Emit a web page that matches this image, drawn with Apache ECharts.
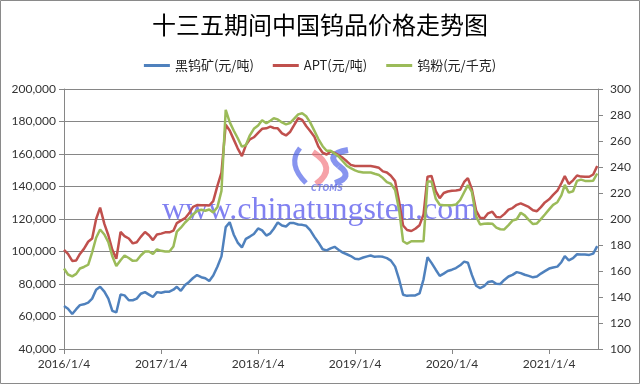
<!DOCTYPE html>
<html><head><meta charset="utf-8">
<script src="https://cdn.jsdelivr.net/npm/echarts@6/dist/echarts.min.js"></script>
<style>html,body{margin:0;padding:0;background:#fff}#c{width:640px;height:384px}</style>
</head><body><div id="c"></div>
<script>
const titleText = '十三五期间中国钨品价格走势图';
const seriesNames = ['黑钨矿(元/吨)', 'APT(元/吨)', '钨粉(元/千克)'];
const tickDates = ['2016-01-04','2017-01-04','2018-01-04','2019-01-04','2020-01-04','2021-01-04'];
const tickLabels = ['2016/1/4','2017/1/4','2018/1/4','2019/1/4','2020/1/4','2021/1/4'];
const axisStart = '2016-01-04';
const axisEnd = '2021-07-07';
const dates = [
'2016-01-04','2016-01-19','2016-02-04','2016-02-19','2016-03-04','2016-03-19','2016-04-04','2016-04-19','2016-05-04','2016-05-19','2016-06-04','2016-06-19',
'2016-07-04','2016-07-19','2016-08-04','2016-08-19','2016-09-04','2016-09-19','2016-10-04','2016-10-19','2016-11-04','2016-11-19','2016-12-04','2016-12-19',
'2017-01-04','2017-01-19','2017-02-04','2017-02-19','2017-03-04','2017-03-19','2017-04-04','2017-04-19','2017-05-04','2017-05-19','2017-06-04','2017-06-19',
'2017-07-04','2017-07-19','2017-08-04','2017-08-19','2017-09-04','2017-09-19','2017-10-04','2017-10-19','2017-11-04','2017-11-19','2017-12-04','2017-12-19',
'2018-01-04','2018-01-19','2018-02-04','2018-02-19','2018-03-04','2018-03-19','2018-04-04','2018-04-19','2018-05-04','2018-05-19','2018-06-04','2018-06-19',
'2018-07-04','2018-07-19','2018-08-04','2018-08-19','2018-09-04','2018-09-19','2018-10-04','2018-10-19','2018-11-04','2018-11-19','2018-12-04','2018-12-19',
'2019-01-04','2019-01-19','2019-02-04','2019-02-19','2019-03-04','2019-03-19','2019-04-04','2019-04-19','2019-05-04','2019-05-19','2019-06-04','2019-06-19',
'2019-07-04','2019-07-19','2019-08-04','2019-08-19','2019-09-04','2019-09-19','2019-10-04','2019-10-19','2019-11-04','2019-11-19','2019-12-04','2019-12-19',
'2020-01-04','2020-01-19','2020-02-04','2020-02-19','2020-03-04','2020-03-19','2020-04-04','2020-04-19','2020-05-04','2020-05-19','2020-06-04','2020-06-19',
'2020-07-04','2020-07-19','2020-08-04','2020-08-19','2020-09-04','2020-09-19','2020-10-04','2020-10-19','2020-11-04','2020-11-19','2020-12-04','2020-12-19',
'2021-01-04','2021-01-19','2021-02-04','2021-02-19','2021-03-04','2021-03-19','2021-04-04','2021-04-19','2021-05-04','2021-05-19','2021-06-04','2021-06-19',
'2021-07-04'];
// 黑钨矿 (元/吨)
const woloframite = [
66500,64800,61500,64500,67000,67500,68500,71000,76500,78300,75300,71000,
63500,62500,73500,73000,70000,70000,71000,74000,75000,73500,72000,75000,
74600,75200,75300,76500,78300,75800,79400,81300,83700,85500,84200,83500,
81800,85200,90800,97000,115000,118000,110500,105500,102500,107800,109200,110800,
114200,113000,109800,111200,114000,117900,116000,115400,117600,117500,116600,116400,
115800,113200,109000,105600,101400,100700,101900,102900,100900,99300,98300,97200,
95500,95300,96300,97000,97500,96700,97000,96700,95900,94400,90700,82800,
73400,72700,73000,73000,74200,82900,96500,93000,88800,85000,86400,88000,
88800,89800,91500,93800,93100,85600,78900,77500,78700,81200,81700,80100,
80000,82500,84600,85600,87300,86700,85700,85000,84100,84600,86400,87900,
89500,90200,90700,93400,97100,94600,95900,98300,98200,98100,97900,98700,
103300];
// APT (元/吨)
const apt = [
101000,98500,94200,94500,98500,101600,106000,108000,120000,127000,117000,110000,
101000,95500,112000,109500,108000,105000,105700,109000,112000,110000,107000,110500,
111000,111800,111800,112800,117500,119000,120500,123500,127500,128600,128500,128500,
128300,131000,140500,148500,178000,174500,169000,163500,158700,165500,169000,170300,
173000,175500,175800,176800,176000,175800,172700,171400,173500,177600,182000,181000,
177200,174200,170600,164600,160800,159700,161500,160700,159200,157600,155500,153300,
152600,152600,152600,152600,152600,152200,151500,149300,148600,146600,143300,130700,
116000,113200,112600,114000,116200,122800,146000,146500,137200,132800,136000,136900,
137400,137600,138000,142800,145200,138300,125200,120700,120500,123500,124500,121200,
121000,123000,125800,126700,128700,129600,128500,127400,125400,124800,127300,130200,
132100,134800,137400,142000,146400,141500,143800,146800,146100,146000,146000,147400,
152600];
// 钨粉 (元/千克)
const powder = [
161.9,157.3,155.9,157.8,161.9,163.1,164.8,174.4,185.6,191.9,188.1,182.1,
171.3,163.8,168.3,171.9,170,167.8,168.1,171.9,175,175,173.1,176.6,
175.5,175,175,178.8,190.3,193.3,197.3,200.3,203.5,206.1,207.1,206.3,
207.3,205,209.3,221.6,284,274.5,268.1,262.3,255.6,256.9,264.4,269.4,
272,276,273.6,275.6,277.5,276.6,274.3,272.8,273.8,277,280.5,281.3,
279,274.3,267.8,261.5,256,252.5,252.5,250.3,247.9,244.4,241,239.1,
237.4,236.3,235.8,235.8,235.8,234.8,233.8,231.5,228.3,227.1,222.3,207,
182.9,181,182.9,182.9,182.9,182.9,228.8,228.8,215.6,211,210.6,210.6,
210.6,211.1,214.6,220.6,226.1,220.8,202,195.8,196.3,196.6,196.4,193.4,
192.1,192,195.3,198.8,199.8,204.8,202.8,199.3,196.1,196.6,199.9,203.5,
207.4,210.9,212.9,218.1,226.3,220.3,221.3,229.3,230.3,229.3,229.3,229.5,
235];
const leftAxisRange = [40000, 200000, 20000];
const rightAxisRange = [100, 300, 20];
const colors = ['#4F81BD', '#C0504D', '#9BBB59'];

const DAY = 86400000;
const t0 = Date.parse(axisStart);
const toDay = d => Math.round((Date.parse(d) - t0) / DAY);
const tickDays = tickDates.map(toDay);
const pairs = vals => dates.map((d, i) => [toDay(d), vals[i]]);

const axisColor = '#868686';
const labelFont = {fontFamily: 'Lato', fontSize: 12, color: '#333'};
const blueMark = 'rgba(70,90,230,0.65)';

const chart = echarts.init(document.getElementById('c'), null, {renderer: 'canvas'});
chart.setOption({
  animation: false,
  title: {
    text: titleText, left: 'center', top: 8,
    textStyle: {fontFamily: '"Noto Sans CJK SC"', fontSize: 24, fontWeight: 'normal', color: '#000'}
  },
  legend: {
    top: 54, left: 'center', itemGap: 19, itemWidth: 26, itemHeight: 3, icon: 'rect',
    textStyle: {fontFamily: '"Noto Sans CJK SC"', fontSize: 13, color: '#222'},
    data: seriesNames
  },
  grid: {left: 64, right: 42, top: 89, bottom: 35},
  xAxis: {
    type: 'value', min: 0, max: toDay(axisEnd),
    splitLine: {show: false},
    axisLine: {lineStyle: {color: axisColor}},
    axisTick: {customValues: tickDays, length: 5, lineStyle: {color: axisColor}},
    axisLabel: Object.assign({customValues: tickDays, margin: 9,
      formatter: v => { const i = tickDays.indexOf(Math.round(v)); return i >= 0 ? tickLabels[i] : ''; }}, labelFont)
  },
  yAxis: [{
    type: 'value', min: leftAxisRange[0], max: leftAxisRange[1], interval: leftAxisRange[2],
    axisLine: {show: true, lineStyle: {color: axisColor}},
    axisTick: {show: true, length: 5, lineStyle: {color: axisColor}},
    splitLine: {lineStyle: {color: axisColor, width: 1}},
    axisLabel: Object.assign({margin: 8, formatter: v => v.toLocaleString('en-US')}, labelFont)
  }, {
    type: 'value', min: rightAxisRange[0], max: rightAxisRange[1], interval: rightAxisRange[2],
    position: 'right',
    axisLine: {show: true, lineStyle: {color: axisColor}},
    axisTick: {show: true, length: 5, lineStyle: {color: axisColor}},
    splitLine: {show: false},
    axisLabel: Object.assign({margin: 12}, labelFont)
  }],
  graphic: [
    {type: 'rect', silent: true, z: 100, shape: {x: 0.5, y: 0.5, width: 639, height: 383},
      style: {fill: 'none', stroke: '#8a8a8a', lineWidth: 1}},
    {type: 'bezierCurve', silent: true, z: 1, shape: {x1: 300, y1: 148, cpx1: 287, cpy1: 164, x2: 306, y2: 183},
      style: {fill: 'none', stroke: blueMark, lineWidth: 5}},
    {type: 'bezierCurve', silent: true, z: 1, shape: {x1: 313, y1: 152, cpx1: 338, cpy1: 168, x2: 316, y2: 184},
      style: {fill: 'none', stroke: 'rgba(240,100,110,0.6)', lineWidth: 6}},
    {type: 'bezierCurve', silent: true, z: 1, shape: {x1: 348, y1: 150, cpx1: 324, cpy1: 154, x2: 339, y2: 166},
      style: {fill: 'none', stroke: blueMark, lineWidth: 6}},
    {type: 'bezierCurve', silent: true, z: 1, shape: {x1: 339, y1: 166, cpx1: 354, cpy1: 177, x2: 335, y2: 183},
      style: {fill: 'none', stroke: blueMark, lineWidth: 6}},
    {type: 'text', silent: true, z: 1, style: {text: 'CTOMS', x: 327, y: 189, align: 'center', verticalAlign: 'middle',
      font: 'italic bold 8px "DejaVu Sans"', fill: 'rgba(90,100,230,0.7)'}},
    {type: 'text', silent: true, z: 1, style: {text: 'www.chinatungsten.com', x: 320, y: 211, align: 'center', verticalAlign: 'middle',
      font: '32px "Liberation Serif"', fill: 'rgba(75,75,235,0.7)'}}
  ],
  series: [
    {name: seriesNames[0], type: 'line', yAxisIndex: 0, data: pairs(woloframite), showSymbol: false, z: 3,
      lineStyle: {width: 2.5, color: colors[0]}, itemStyle: {color: colors[0]}},
    {name: seriesNames[1], type: 'line', yAxisIndex: 0, data: pairs(apt), showSymbol: false, z: 3,
      lineStyle: {width: 2.5, color: colors[1]}, itemStyle: {color: colors[1]}},
    {name: seriesNames[2], type: 'line', yAxisIndex: 1, data: pairs(powder), showSymbol: false, z: 3,
      lineStyle: {width: 2.5, color: colors[2]}, itemStyle: {color: colors[2]}}
  ]
});
</script></body></html>
